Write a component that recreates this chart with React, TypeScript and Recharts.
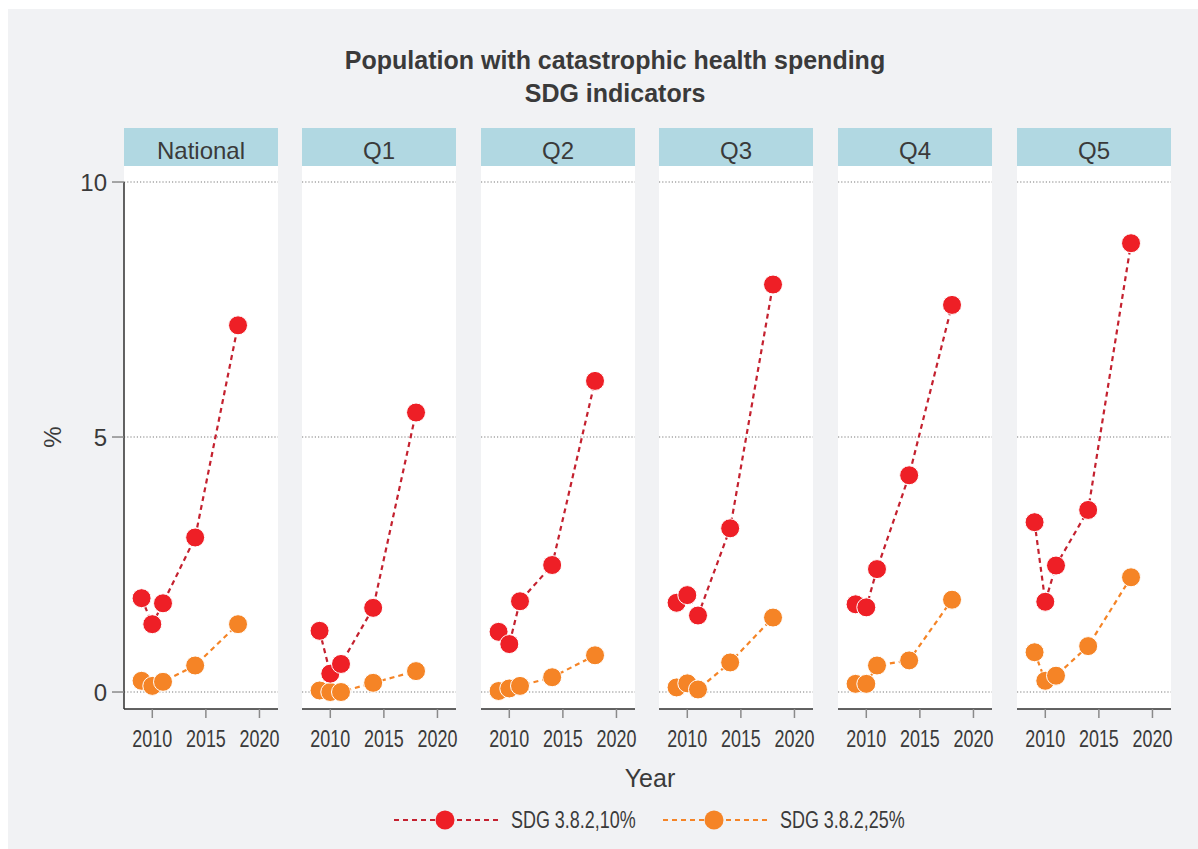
import React from "react";
import { LineChart, Line, XAxis, YAxis, ReferenceLine } from "recharts";

const years = [2009, 2010, 2011, 2014, 2018];
const panelNames = ["National", "Q1", "Q2", "Q3", "Q4", "Q5"];
const xTicks = [2010, 2015, 2020];
const yTicks = [0, 5, 10];

const sdg10National = [1.84, 1.33, 1.74, 3.03, 7.19];
const sdg10Q1 = [1.2, 0.36, 0.55, 1.65, 5.48];
const sdg10Q2 = [1.18, 0.94, 1.78, 2.49, 6.1];
const sdg10Q3 = [1.75, 1.9, 1.5, 3.21, 7.99];
const sdg10Q4 = [1.72, 1.66, 2.41, 4.25, 7.59];
const sdg10Q5 = [3.33, 1.77, 2.48, 3.57, 8.8];

const sdg25National = [0.22, 0.12, 0.2, 0.52, 1.33];
const sdg25Q1 = [0.03, 0.0, 0.0, 0.18, 0.41];
const sdg25Q2 = [0.02, 0.07, 0.12, 0.29, 0.72];
const sdg25Q3 = [0.09, 0.17, 0.05, 0.58, 1.46];
const sdg25Q4 = [0.16, 0.16, 0.52, 0.62, 1.81];
const sdg25Q5 = [0.78, 0.22, 0.32, 0.9, 2.25];

const sdg10Series = [sdg10National, sdg10Q1, sdg10Q2, sdg10Q3, sdg10Q4, sdg10Q5];
const sdg25Series = [sdg25National, sdg25Q1, sdg25Q2, sdg25Q3, sdg25Q4, sdg25Q5];

const FONT = '"Liberation Sans", Arial, sans-serif';
const RED = "#ee1f26";
const RED_LINE = "#c4212f";
const ORANGE = "#f58426";
const ORANGE_LINE = "#f58426";
const BG = "#f1f2f4";
const STRIP = "#b1d8e2";
const TEXT = "#3a3a3a";
const CONDENSE = 0.78;

const panelLefts = [124, 302, 481, 659, 838, 1017];
const PANEL_W = 154;
const STRIP_TOP = 128;
const PLOT_TOP = 166;
const PLOT_BOTTOM = 709;
const X_AXIS_H = 48;
const Y_AXIS_W = 32;
const X_DOMAIN: [number, number] = [2007.36, 2021.73];
const Y_DOMAIN: [number, number] = [-0.333, 10.314];

function Dot(props: any) {
  const { cx, cy, fill } = props;
  if (cx == null || cy == null) return null;
  return <circle cx={cx} cy={cy} r={9.5} fill={fill} stroke="#ffffff" strokeWidth={1} />;
}

function XTick(props: any) {
  const { x, y, payload } = props;
  return (
    <g transform={`translate(${x},${y})`}>
      <text
        transform={`scale(${CONDENSE},1)`}
        textAnchor="middle"
        dy="0.72em"
        fill={TEXT}
        fontSize={23}
        fontFamily={FONT}
      >
        {payload.value}
      </text>
    </g>
  );
}

function Panel({ idx }: { idx: number }) {
  const first = idx === 0;
  const data = years.map((y, i) => ({
    year: y,
    sdg10: sdg10Series[idx][i],
    sdg25: sdg25Series[idx][i],
  }));
  const left = panelLefts[idx] - (first ? Y_AXIS_W : 0);
  const width = PANEL_W + (first ? Y_AXIS_W : 0);
  const height = PLOT_BOTTOM - PLOT_TOP + X_AXIS_H;
  return (
    <>
      <div
        style={{
          position: "absolute",
          left: panelLefts[idx],
          top: STRIP_TOP,
          width: PANEL_W,
          height: PLOT_TOP - STRIP_TOP,
          background: STRIP,
          color: TEXT,
          fontFamily: FONT,
          fontSize: 24,
          lineHeight: "45px",
          textAlign: "center",
          overflow: "hidden",
        }}
      >
        {panelNames[idx]}
      </div>
      <div
        style={{
          position: "absolute",
          left: panelLefts[idx],
          top: PLOT_TOP,
          width: PANEL_W,
          height: PLOT_BOTTOM - PLOT_TOP,
          background: "#ffffff",
        }}
      />
      <div style={{ position: "absolute", left, top: PLOT_TOP }}>
        <LineChart
          width={width}
          height={height}
          data={data}
          margin={{ top: 0, right: 0, bottom: 0, left: 0 }}
          style={{ fontFamily: FONT }}
        >
          <XAxis
            dataKey="year"
            type="number"
            domain={X_DOMAIN}
            allowDataOverflow
            ticks={xTicks}
            interval={0}
            height={X_AXIS_H}
            tickSize={9}
            tickMargin={12}
            axisLine={{ stroke: "#2f2f2f", strokeWidth: 1.5 }}
            tickLine={{ stroke: "#8a8a8a", strokeWidth: 1.5 }}
            tick={<XTick />}
          />
          <YAxis
            type="number"
            domain={Y_DOMAIN}
            allowDataOverflow
            ticks={yTicks}
            interval={0}
            hide={!first}
            width={Y_AXIS_W}
            tickSize={12}
            tickMargin={5}
            axisLine={false}
            tickLine={{ stroke: "#8a8a8a", strokeWidth: 1.5 }}
            tick={{ fill: TEXT, fontSize: 24, fontFamily: FONT }}
          />
          {yTicks.map((t) => (
            <ReferenceLine key={t} y={t} stroke="#7a7a7a" strokeWidth={1.2} strokeDasharray="1.2 2" />
          ))}
          {first && (
            <ReferenceLine
              segment={[
                { x: X_DOMAIN[0], y: 10 },
                { x: X_DOMAIN[0], y: Y_DOMAIN[0] },
              ]}
              stroke="#2f2f2f"
              strokeWidth={1.5}
            />
          )}
          <Line
            dataKey="sdg25"
            stroke={ORANGE_LINE}
            strokeWidth={2.2}
            strokeDasharray="5 4"
            fill={ORANGE}
            dot={<Dot fill={ORANGE} />}
            isAnimationActive={false}
          />
          <Line
            dataKey="sdg10"
            stroke={RED_LINE}
            strokeWidth={2.2}
            strokeDasharray="5 4"
            fill={RED}
            dot={<Dot fill={RED} />}
            isAnimationActive={false}
          />
        </LineChart>
      </div>
    </>
  );
}

function LegendItem({ x, lineColor, dotColor, label }: { x: number; lineColor: string; dotColor: string; label: string }) {
  return (
    <div style={{ position: "absolute", left: x, top: 805, height: 30, display: "flex", alignItems: "center" }}>
      <svg width={104} height={30}>
        <line x1={0} y1={15} x2={104} y2={15} stroke={lineColor} strokeWidth={2} strokeDasharray="5 4" />
        <circle cx={51} cy={15} r={9.5} fill={dotColor} />
      </svg>
      <span
        style={{
          marginLeft: 13,
          fontFamily: FONT,
          fontSize: 23,
          color: TEXT,
          whiteSpace: "nowrap",
          display: "inline-block",
          transform: `scaleX(${CONDENSE})`,
          transformOrigin: "left center",
        }}
      >
        {label}
      </span>
    </div>
  );
}

export default function App() {
  return (
    <div style={{ position: "fixed", left: 0, top: 0, width: 1198, height: 849, background: "#ffffff", overflow: "hidden" }}>
      <style>{".recharts-surface{overflow:visible}"}</style>
      <div style={{ position: "absolute", left: 8, top: 9, width: 1190, height: 840, background: BG }} />
      <div
        style={{
          position: "absolute",
          left: 0,
          top: 44,
          width: 1230,
          textAlign: "center",
          fontFamily: FONT,
          fontWeight: 700,
          fontSize: 25,
          lineHeight: "33px",
          color: TEXT,
        }}
      >
        <div>Population with catastrophic health spending</div>
        <div>SDG indicators</div>
      </div>
      <div
        style={{
          position: "absolute",
          left: 53,
          top: 437,
          transform: "translate(-50%, -50%) rotate(-90deg)",
          fontFamily: FONT,
          fontSize: 24,
          color: TEXT,
        }}
      >
        %
      </div>
      {panelNames.map((_, i) => (
        <Panel key={i} idx={i} />
      ))}
      <div
        style={{
          position: "absolute",
          left: 0,
          top: 764,
          width: 1300,
          textAlign: "center",
          fontFamily: FONT,
          fontSize: 25,
          color: TEXT,
        }}
      >
        Year
      </div>
      <LegendItem x={394} lineColor={RED_LINE} dotColor={RED} label="SDG 3.8.2,10%" />
      <LegendItem x={663} lineColor={ORANGE_LINE} dotColor={ORANGE} label="SDG 3.8.2,25%" />
    </div>
  );
}
